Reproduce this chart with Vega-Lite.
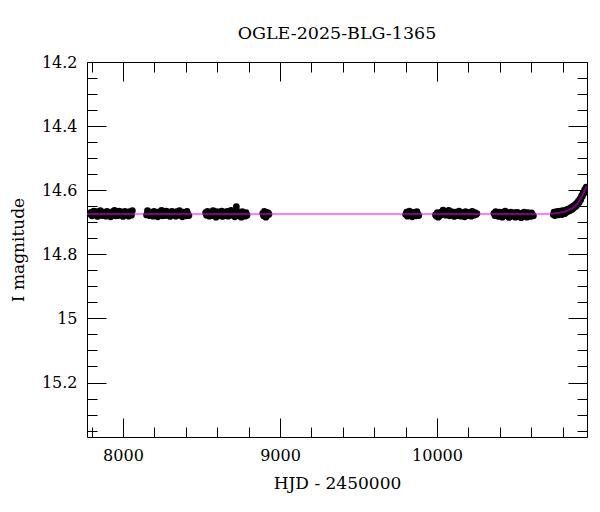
{
  "$schema": "https://vega.github.io/schema/vega-lite/v6.json",
  "width": 500,
  "height": 375,
  "autosize": {"type": "none"},
  "padding": {"left": 87, "top": 62, "right": 13, "bottom": 75},
  "title": {"text": "OGLE-2025-BLG-1365", "font": "DejaVu Serif", "fontSize": 17.5, "fontWeight": "normal", "color": "black", "frame": "group", "anchor": "middle", "offset": 12},
  "config": {
    "background": "white",
    "view": {"stroke": "black", "strokeWidth": 1},
    "axis": {"domain": false, "grid": false, "tickColor": "black", "tickWidth": 1, "labelColor": "black", "titleColor": "black", "labelFont": "DejaVu Serif", "titleFont": "DejaVu Serif", "titleFontWeight": "normal", "labelFontSize": 16, "titleFontSize": 17}
  },
  "datasets": {
    "obs": [
      {"t":7790,"m":14.675},{"t":7796,"m":14.669},{"t":7802,"m":14.680},{"t":7808,"m":14.672},{"t":7814,"m":14.665},{"t":7820,"m":14.678},{"t":7826,"m":14.673},{"t":7832,"m":14.667},{"t":7838,"m":14.682},{"t":7844,"m":14.670},{"t":7850,"m":14.677},{"t":7856,"m":14.664},{"t":7862,"m":14.674},{"t":7868,"m":14.679},{"t":7874,"m":14.668},{"t":7880,"m":14.676},{"t":7886,"m":14.671},{"t":7892,"m":14.681},{"t":7898,"m":14.666},{"t":7904,"m":14.673},{"t":7910,"m":14.678},{"t":7916,"m":14.669},{"t":7922,"m":14.683},{"t":7928,"m":14.672},{"t":7934,"m":14.667},{"t":7940,"m":14.676},{"t":7946,"m":14.663},{"t":7952,"m":14.680},{"t":7958,"m":14.675},{"t":7964,"m":14.670},{"t":7970,"m":14.679},{"t":7976,"m":14.665},{"t":7982,"m":14.674},{"t":7988,"m":14.677},{"t":7994,"m":14.668},{"t":8000,"m":14.682},{"t":8006,"m":14.671},{"t":8012,"m":14.666},{"t":8018,"m":14.676},{"t":8024,"m":14.673},{"t":8030,"m":14.669},{"t":8036,"m":14.681},{"t":8042,"m":14.667},{"t":8048,"m":14.675},{"t":8054,"m":14.678},{"t":8060,"m":14.664},
      {"t":8150,"m":14.677},{"t":8156,"m":14.664},{"t":8162,"m":14.674},{"t":8168,"m":14.679},{"t":8174,"m":14.668},{"t":8180,"m":14.676},{"t":8186,"m":14.671},{"t":8192,"m":14.681},{"t":8198,"m":14.666},{"t":8204,"m":14.673},{"t":8210,"m":14.678},{"t":8216,"m":14.669},{"t":8222,"m":14.683},{"t":8228,"m":14.672},{"t":8234,"m":14.667},{"t":8240,"m":14.676},{"t":8246,"m":14.663},{"t":8252,"m":14.680},{"t":8258,"m":14.675},{"t":8264,"m":14.670},{"t":8270,"m":14.679},{"t":8276,"m":14.665},{"t":8282,"m":14.674},{"t":8288,"m":14.677},{"t":8294,"m":14.668},{"t":8300,"m":14.682},{"t":8306,"m":14.671},{"t":8312,"m":14.666},{"t":8318,"m":14.676},{"t":8324,"m":14.673},{"t":8330,"m":14.669},{"t":8336,"m":14.681},{"t":8342,"m":14.667},{"t":8348,"m":14.675},{"t":8354,"m":14.678},{"t":8360,"m":14.664},{"t":8366,"m":14.674},{"t":8372,"m":14.670},{"t":8378,"m":14.683},{"t":8384,"m":14.668},{"t":8390,"m":14.677},{"t":8396,"m":14.672},{"t":8402,"m":14.680},{"t":8408,"m":14.666},{"t":8414,"m":14.675},{"t":8420,"m":14.679},
      {"t":8526,"m":14.670},{"t":8532,"m":14.678},{"t":8538,"m":14.666},{"t":8544,"m":14.675},{"t":8550,"m":14.681},{"t":8556,"m":14.668},{"t":8562,"m":14.673},{"t":8568,"m":14.679},{"t":8574,"m":14.664},{"t":8580,"m":14.676},{"t":8586,"m":14.671},{"t":8592,"m":14.684},{"t":8598,"m":14.667},{"t":8604,"m":14.674},{"t":8610,"m":14.680},{"t":8616,"m":14.669},{"t":8622,"m":14.677},{"t":8628,"m":14.665},{"t":8634,"m":14.682},{"t":8640,"m":14.672},{"t":8646,"m":14.668},{"t":8652,"m":14.679},{"t":8658,"m":14.674},{"t":8664,"m":14.666},{"t":8670,"m":14.681},{"t":8676,"m":14.670},{"t":8682,"m":14.676},{"t":8688,"m":14.663},{"t":8694,"m":14.678},{"t":8700,"m":14.673},{"t":8706,"m":14.668},{"t":8712,"m":14.683},{"t":8718,"m":14.671},{"t":8722,"m":14.651},{"t":8724,"m":14.676},{"t":8730,"m":14.666},{"t":8736,"m":14.680},{"t":8742,"m":14.674},{"t":8748,"m":14.669},{"t":8754,"m":14.684},{"t":8760,"m":14.667},{"t":8766,"m":14.677},{"t":8772,"m":14.672},{"t":8778,"m":14.681},{"t":8784,"m":14.670},{"t":8790,"m":14.678},
      {"t":8890,"m":14.672},{"t":8895,"m":14.680},{"t":8900,"m":14.666},{"t":8905,"m":14.676},{"t":8910,"m":14.684},{"t":8915,"m":14.669},{"t":8920,"m":14.678},{"t":8925,"m":14.671},{"t":8930,"m":14.675},
      {"t":9800,"m":14.676},{"t":9806,"m":14.668},{"t":9812,"m":14.681},{"t":9818,"m":14.672},{"t":9824,"m":14.665},{"t":9830,"m":14.678},{"t":9836,"m":14.674},{"t":9842,"m":14.683},{"t":9848,"m":14.669},{"t":9854,"m":14.677},{"t":9860,"m":14.671},{"t":9866,"m":14.680},{"t":9872,"m":14.667},{"t":9878,"m":14.675},{"t":9884,"m":14.679},
      {"t":9990,"m":14.677},{"t":9996,"m":14.681},{"t":10002,"m":14.670},{"t":10008,"m":14.684},{"t":10014,"m":14.674},{"t":10020,"m":14.679},{"t":10026,"m":14.668},{"t":10032,"m":14.676},{"t":10038,"m":14.662},{"t":10044,"m":14.673},{"t":10050,"m":14.666},{"t":10056,"m":14.678},{"t":10062,"m":14.669},{"t":10068,"m":14.675},{"t":10074,"m":14.663},{"t":10080,"m":14.680},{"t":10086,"m":14.671},{"t":10092,"m":14.667},{"t":10098,"m":14.677},{"t":10104,"m":14.672},{"t":10110,"m":14.682},{"t":10116,"m":14.668},{"t":10122,"m":14.675},{"t":10128,"m":14.670},{"t":10134,"m":14.679},{"t":10140,"m":14.665},{"t":10146,"m":14.674},{"t":10152,"m":14.681},{"t":10158,"m":14.669},{"t":10164,"m":14.676},{"t":10170,"m":14.671},{"t":10176,"m":14.683},{"t":10182,"m":14.667},{"t":10188,"m":14.674},{"t":10194,"m":14.679},{"t":10200,"m":14.669},{"t":10206,"m":14.676},{"t":10212,"m":14.672},{"t":10218,"m":14.681},{"t":10224,"m":14.666},{"t":10230,"m":14.675},{"t":10236,"m":14.678},{"t":10242,"m":14.670},{"t":10248,"m":14.676},{"t":10254,"m":14.673},
      {"t":10362,"m":14.672},{"t":10368,"m":14.679},{"t":10374,"m":14.667},{"t":10380,"m":14.675},{"t":10386,"m":14.670},{"t":10392,"m":14.682},{"t":10398,"m":14.668},{"t":10404,"m":14.676},{"t":10410,"m":14.673},{"t":10416,"m":14.684},{"t":10422,"m":14.669},{"t":10428,"m":14.678},{"t":10434,"m":14.665},{"t":10440,"m":14.674},{"t":10446,"m":14.680},{"t":10452,"m":14.671},{"t":10458,"m":14.685},{"t":10464,"m":14.676},{"t":10470,"m":14.668},{"t":10476,"m":14.681},{"t":10482,"m":14.673},{"t":10488,"m":14.679},{"t":10494,"m":14.670},{"t":10500,"m":14.684},{"t":10506,"m":14.675},{"t":10512,"m":14.669},{"t":10518,"m":14.682},{"t":10524,"m":14.677},{"t":10530,"m":14.672},{"t":10536,"m":14.686},{"t":10542,"m":14.674},{"t":10548,"m":14.680},{"t":10554,"m":14.668},{"t":10560,"m":14.678},{"t":10566,"m":14.673},{"t":10572,"m":14.684},{"t":10578,"m":14.670},{"t":10584,"m":14.679},{"t":10590,"m":14.675},{"t":10596,"m":14.682},{"t":10602,"m":14.671},{"t":10608,"m":14.677},{"t":10614,"m":14.680},
      {"t":10740,"m":14.676},{"t":10745,"m":14.668},{"t":10750,"m":14.679},{"t":10755,"m":14.671},{"t":10760,"m":14.675},{"t":10765,"m":14.666},{"t":10770,"m":14.677},{"t":10775,"m":14.670},{"t":10780,"m":14.674},{"t":10785,"m":14.665},{"t":10790,"m":14.672},{"t":10795,"m":14.676},{"t":10800,"m":14.664},{"t":10805,"m":14.671},{"t":10810,"m":14.667},{"t":10815,"m":14.673},{"t":10820,"m":14.662},{"t":10825,"m":14.668},{"t":10830,"m":14.660},{"t":10835,"m":14.666},{"t":10840,"m":14.658},{"t":10845,"m":14.664},{"t":10850,"m":14.655},{"t":10855,"m":14.661},{"t":10860,"m":14.652},{"t":10865,"m":14.658},{"t":10870,"m":14.649},{"t":10875,"m":14.653},{"t":10880,"m":14.645},{"t":10885,"m":14.650},{"t":10890,"m":14.640},{"t":10895,"m":14.644},{"t":10900,"m":14.634},{"t":10905,"m":14.638},{"t":10910,"m":14.627},{"t":10915,"m":14.630},{"t":10920,"m":14.618},{"t":10925,"m":14.620},{"t":10930,"m":14.608},{"t":10935,"m":14.610},{"t":10940,"m":14.598},{"t":10945,"m":14.597},{"t":10950,"m":14.590}
    ],
    "model": [
      {"t":7771,"m":14.674},{"t":10700,"m":14.674},{"t":10740,"m":14.673},{"t":10780,"m":14.670},{"t":10810,"m":14.667},{"t":10840,"m":14.662},{"t":10860,"m":14.657},{"t":10880,"m":14.649},{"t":10895,"m":14.641},{"t":10910,"m":14.630},{"t":10920,"m":14.621},{"t":10930,"m":14.611},{"t":10940,"m":14.601},{"t":10950,"m":14.591},{"t":10955,"m":14.587}
    ]
  },
  "layer": [
    {
      "data": {"name": "obs"},
      "mark": {"type": "circle", "size": 45, "color": "black", "opacity": 1, "clip": true},
      "encoding": {
        "x": {"field": "t", "type": "quantitative", "scale": {"domain": [7771, 10955], "nice": false, "zero": false},
              "axis": {"orient": "bottom", "values": [8000, 9000, 10000], "format": "d", "ticks": false, "labelPadding": 10, "title": "HJD - 2450000", "titlePadding": 12}},
        "y": {"field": "m", "type": "quantitative", "scale": {"domain": [14.2, 15.37], "reverse": true, "nice": false, "zero": false},
              "axis": {"orient": "left", "values": [14.2, 14.4, 14.6, 14.8, 15, 15.2], "format": "~g", "ticks": false, "labelPadding": 10, "title": "I magnitude", "titlePadding": 14}}
      }
    },
    {
      "data": {"name": "model"},
      "mark": {"type": "line", "color": "#ff00ff", "opacity": 0.5, "strokeWidth": 2, "clip": true},
      "encoding": {
        "x": {"field": "t", "type": "quantitative", "axis": {"orient": "bottom", "values": [8000, 9000, 10000], "labels": false, "tickSize": -19, "title": null}},
        "y": {"field": "m", "type": "quantitative", "axis": {"orient": "left", "values": [14.2, 14.4, 14.6, 14.8, 15, 15.2], "labels": false, "tickSize": -19, "title": null}}
      }
    },
    {
      "data": {"name": "model"},
      "mark": {"type": "line", "opacity": 0, "clip": true},
      "encoding": {
        "x": {"field": "t", "type": "quantitative", "axis": {"orient": "bottom", "values": [7800, 8200, 8400, 8600, 8800, 9200, 9400, 9600, 9800, 10200, 10400, 10600, 10800], "labels": false, "tickSize": -10, "title": null}},
        "y": {"field": "m", "type": "quantitative", "axis": {"orient": "left", "values": [14.25, 14.3, 14.35, 14.45, 14.5, 14.55, 14.65, 14.7, 14.75, 14.85, 14.9, 14.95, 15.05, 15.1, 15.15, 15.25, 15.3, 15.35], "labels": false, "tickSize": -10, "title": null}}
      }
    },
    {
      "data": {"name": "model"},
      "mark": {"type": "line", "opacity": 0, "clip": true},
      "encoding": {
        "x": {"field": "t", "type": "quantitative", "axis": {"orient": "top", "values": [8000, 9000, 10000], "labels": false, "tickSize": -19, "title": null}},
        "y": {"field": "m", "type": "quantitative", "axis": {"orient": "right", "values": [14.2, 14.4, 14.6, 14.8, 15, 15.2], "labels": false, "tickSize": -19, "title": null}}
      }
    },
    {
      "data": {"name": "model"},
      "mark": {"type": "line", "opacity": 0, "clip": true},
      "encoding": {
        "x": {"field": "t", "type": "quantitative", "axis": {"orient": "top", "values": [7800, 8200, 8400, 8600, 8800, 9200, 9400, 9600, 9800, 10200, 10400, 10600, 10800], "labels": false, "tickSize": -10, "title": null}},
        "y": {"field": "m", "type": "quantitative", "axis": {"orient": "right", "values": [14.25, 14.3, 14.35, 14.45, 14.5, 14.55, 14.65, 14.7, 14.75, 14.85, 14.9, 14.95, 15.05, 15.1, 15.15, 15.25, 15.3, 15.35], "labels": false, "tickSize": -10, "title": null}}
      }
    }
  ],
  "resolve": {"axis": {"x": "independent", "y": "independent"}}
}
